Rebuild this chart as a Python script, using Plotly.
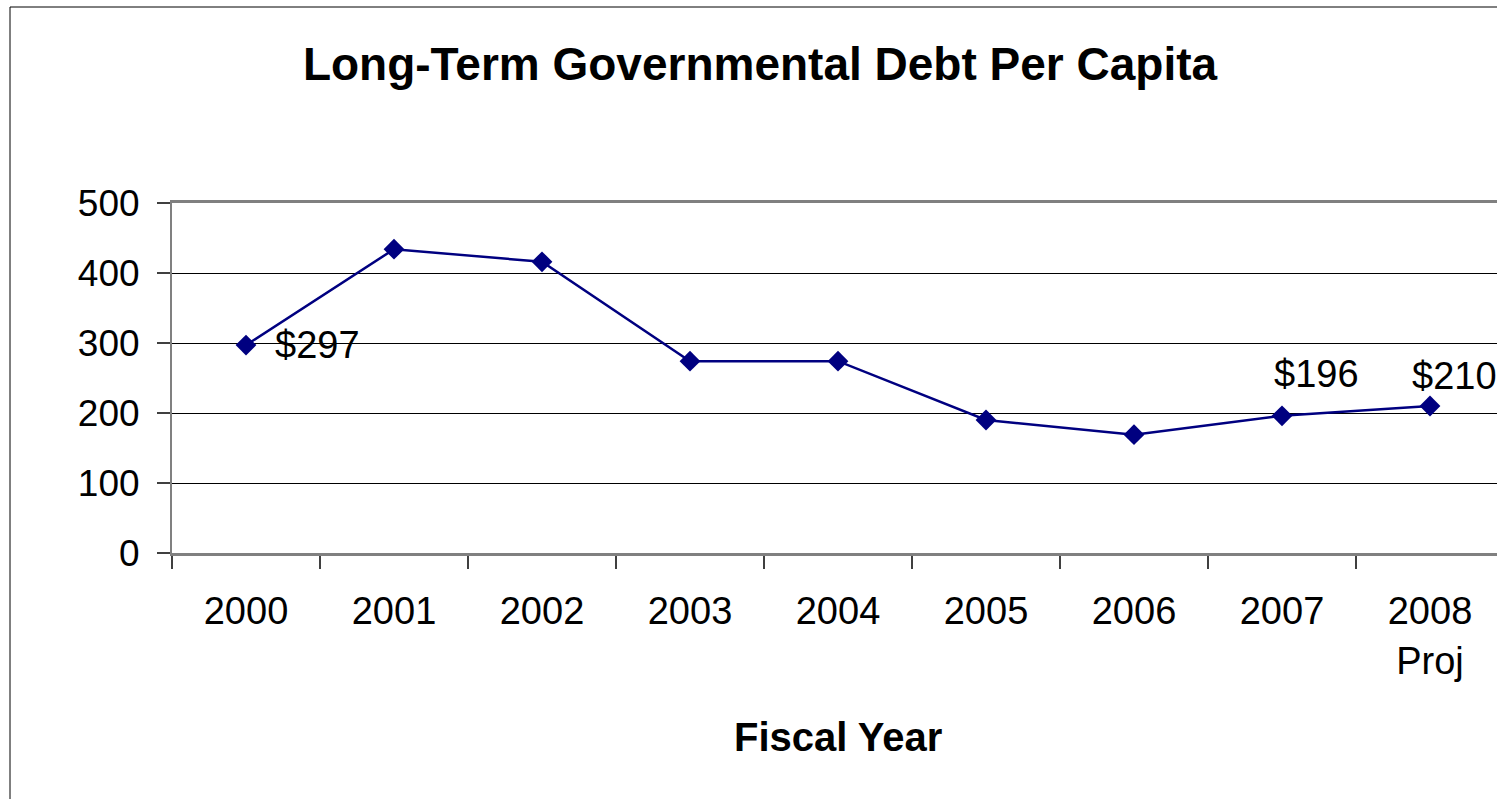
import plotly.graph_objects as go

# Fiscal years and long-term governmental debt per capita (dollars)
years = ["2000", "2001", "2002", "2003", "2004", "2005", "2006", "2007", "2008"]
year_labels = ["2000", "2001", "2002", "2003", "2004", "2005", "2006", "2007", "2008<br>Proj"]
debt_per_capita = [297, 434, 416, 274, 274, 190, 169, 196, 210]

# Points that carry a dollar label: (index, xshift, yshift, xanchor)
labelled = [(0, 27, 0, "left"), (7, 34, 42, "center"), (8, -20, 30, "left")]

FONT = "Liberation Sans, Arial, sans-serif"
W, H = 1497, 799
L, T, B = 172, 203, 246
plot_w = W - L
plot_h = H - T - B

fig = go.Figure()
fig.add_trace(go.Scatter(
    x=years,
    y=debt_per_capita,
    mode="lines+markers",
    line=dict(color="#000080", width=2.5),
    marker=dict(symbol="diamond", size=16, color="#000080"),
    hoverinfo="skip",
    showlegend=False,
    cliponaxis=False,
))

annotations = []
for i, xs, ys, anchor in labelled:
    annotations.append(dict(
        # category axes position annotations by category index
        x=i, y=debt_per_capita[i], xref="x", yref="y",
        text=f"${debt_per_capita[i]}", showarrow=False,
        xanchor=anchor, yanchor="middle", xshift=xs, yshift=ys,
        font=dict(family=FONT, size=38, color="black"),
    ))

# Axis title drawn as a centred bold caption below the year labels
annotations.append(dict(
    x=(838 - L) / plot_w, y=(553 - 737) / plot_h, xref="paper", yref="paper",
    text="<b>Fiscal Year</b>", showarrow=False, xanchor="center", yanchor="middle",
    font=dict(family=FONT, size=40, color="black"),
))

fig.update_layout(
    width=W, height=H, autosize=False,
    margin=dict(l=L, r=0, t=T, b=B, pad=0),
    paper_bgcolor="white", plot_bgcolor="white",
    title=dict(
        text="<b>Long-Term Governmental Debt Per Capita</b>",
        x=760 / W, xanchor="center", xref="container",
        y=1 - 64 / H, yanchor="middle", yref="container",
        font=dict(family=FONT, size=46, color="black"),
    ),
    annotations=annotations,
    shapes=[dict(
        type="rect", xref="paper", yref="paper",
        x0=(10 - L) / plot_w, x1=1.2,
        y0=(553 - 7) / plot_h, y1=-1.0,
        line=dict(color="black", width=1), fillcolor="rgba(0,0,0,0)", layer="below",
    )],
)

# Category spacing keeps the last boundary just past the right edge
step = 148
fig.update_xaxes(
    type="category", categoryorder="array", categoryarray=years,
    tickmode="array", tickvals=years, ticktext=year_labels,
    range=[-0.5, -0.5 + plot_w / step],
    tickson="boundaries", ticks="outside", ticklen=13, tickwidth=1.5, tickcolor="#404040",
    ticklabelstandoff=23,
    showline=True, linecolor="#808080", linewidth=2.5, mirror=True,
    showgrid=False, zeroline=False,
    tickfont=dict(family=FONT, size=38, color="black"),
    fixedrange=True,
)
fig.update_yaxes(
    range=[0, 500], tickmode="linear", tick0=0, dtick=100,
    ticks="outside", ticklen=13, tickwidth=1.5, tickcolor="#404040",
    ticklabelstandoff=10,
    showline=True, linecolor="#808080", linewidth=2,
    showgrid=True, gridcolor="black", gridwidth=1, zeroline=False,
    tickfont=dict(family=FONT, size=37, color="black"),
    fixedrange=True,
)

fig.write_html("out.html", config={"displayModeBar": False})
